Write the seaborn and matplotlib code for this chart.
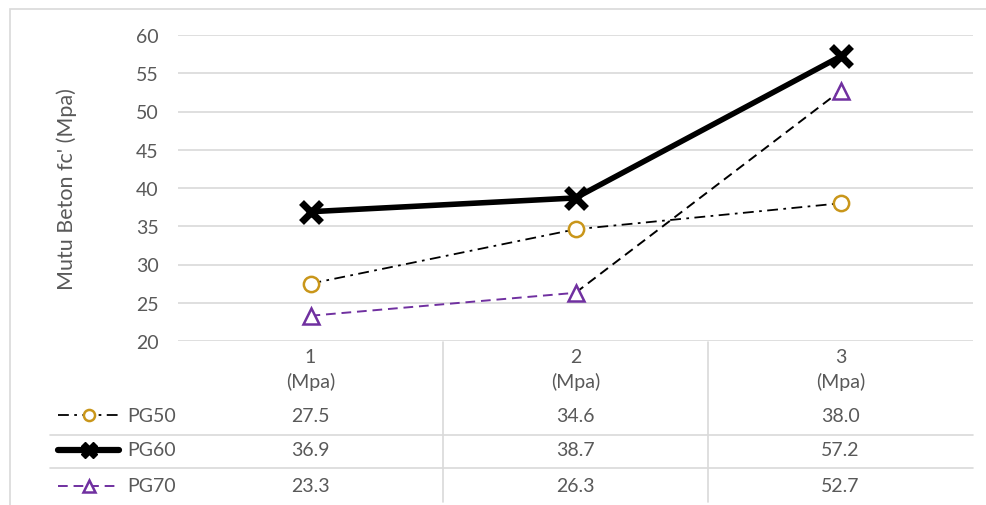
import matplotlib
matplotlib.use("Agg")
import matplotlib.pyplot as plt
import matplotlib.transforms as mtransforms
from matplotlib.lines import Line2D
from matplotlib.patches import Rectangle
import seaborn as sns
import pandas as pd

# data
categories = ["1\n(Mpa)", "2\n(Mpa)", "3\n(Mpa)"]
series_names = ["PG50", "PG60", "PG70"]
pg50 = [27.5, 34.6, 38.0]
pg60 = [36.9, 38.7, 57.2]
pg70 = [23.3, 26.3, 52.7]
y_ticks = [20, 25, 30, 35, 40, 45, 50, 55, 60]

sns.set_theme(style="white")
plt.rcParams["font.family"] = ["Lato", "DejaVu Sans"]

GRAY_TXT = "#595959"
GRID = "#D9D9D9"
GOLD = "#C9961A"
PURPLE = "#7030A0"
FS = 14

W, H = 986, 506
fig = plt.figure(figsize=(W / 100, H / 100), dpi=100)
# axes placed in pixel terms: left 178, right 973, top 36, bottom 342
ax = fig.add_axes([178 / W, 1 - 342 / H, (973 - 178) / W, (342 - 36) / H])

x = list(range(len(categories)))
df = pd.DataFrame({"x": x, "PG50": pg50, "PG60": pg60, "PG70": pg70})

# PG50 dash-dot black with gold hollow circles
sns.lineplot(data=df, x="x", y="PG50", ax=ax, color="black", linewidth=1.3,
             linestyle=(0, (6, 3, 1.5, 3)), zorder=3)
sns.lineplot(data=df, x="x", y="PG50", ax=ax, linestyle="none", marker="o",
             markersize=11, markerfacecolor="white", markeredgecolor=GOLD,
             markeredgewidth=1.8, zorder=4)

# PG70 dashed: first segment purple, second black
sns.lineplot(data=df.iloc[:2], x="x", y="PG70", ax=ax, color=PURPLE,
             linewidth=1.4, linestyle=(0, (5, 3)), zorder=3)
sns.lineplot(data=df.iloc[1:], x="x", y="PG70", ax=ax, color="black",
             linewidth=1.4, linestyle=(0, (5, 3)), zorder=3)
sns.lineplot(data=df, x="x", y="PG70", ax=ax, linestyle="none", marker="^",
             markersize=12, markerfacecolor="white", markeredgecolor=PURPLE,
             markeredgewidth=1.8, zorder=4)

# PG60 thick black with X
sns.lineplot(data=df, x="x", y="PG60", ax=ax, color="black", linewidth=4,
             marker="x", markersize=15, markeredgewidth=5,
             markeredgecolor="black", zorder=5)

ax.set_xlim(-0.5, 2.5)
ax.set_ylim(20, 60)
ax.set_yticks(y_ticks)
ax.set_xticks([])
ax.set_xlabel("")
ax.set_ylabel("Mutu Beton fc' (Mpa)", fontsize=15.5, color=GRAY_TXT, labelpad=42)
ax.tick_params(axis="y", length=0, pad=14, labelsize=FS, labelcolor=GRAY_TXT)
ax.grid(axis="y", color=GRID, linewidth=1.2)
for s in ax.spines.values():
    s.set_visible(False)
ax.set_facecolor("none")

# outer chart border
fig.patches.append(Rectangle((10 / W, -0.01), 1.0, 1 - 10 / H + 0.01,
                             transform=fig.transFigure, fill=False,
                             edgecolor=GRID, linewidth=1.2))

# data table below the plot
def fy(px):
    return 1 - px / H

tr = mtransforms.blended_transform_factory(ax.transData, fig.transFigure)

for xi, lab in zip(x, categories):
    fig.text(xi, fy(370), lab, transform=tr, ha="center", va="center",
             fontsize=FS, color=GRAY_TXT, linespacing=1.4)

# vertical table separators between categories
for xb in [0.5, 1.5]:
    fig.add_artist(Line2D([xb, xb], [fy(343), fy(503)], transform=tr,
                          color=GRID, linewidth=1.2))
# horizontal row separators
for py in [436, 469]:
    fig.add_artist(Line2D([50 / W, 973 / W], [fy(py), fy(py)],
                          transform=fig.transFigure, color=GRID, linewidth=1.2))

rows_y = [416, 451, 487]
values = [pg50, pg60, pg70]
for py, vals in zip(rows_y, values):
    for xi, v in zip(x, vals):
        fig.text(xi, fy(py), f"{v:.1f}", transform=tr, ha="center",
                 va="center", fontsize=FS, color=GRAY_TXT)

# legend keys inside the table
key_styles = [
    dict(color="black", linewidth=1.3, linestyle=(0, (6, 3, 1.5, 3)),
         marker="o", markersize=8, markerfacecolor="white",
         markeredgecolor=GOLD, markeredgewidth=1.8),
    dict(color="black", linewidth=4.5, linestyle="-", marker="X",
         markersize=12, markerfacecolor="black", markeredgecolor="black"),
    dict(color=PURPLE, linewidth=1.4, linestyle=(0, (5, 3)), marker="^",
         markersize=9, markerfacecolor="white", markeredgecolor=PURPLE,
         markeredgewidth=1.8),
]
for py, name, st in zip(rows_y, series_names, key_styles):
    line_st = {k: v for k, v in st.items() if not k.startswith("marker")}
    mark_st = {k: v for k, v in st.items() if k.startswith("marker")}
    fig.add_artist(Line2D([58 / W, 119 / W], [fy(py), fy(py)],
                          transform=fig.transFigure, **line_st))
    fig.add_artist(Line2D([89 / W], [fy(py)], transform=fig.transFigure,
                          linestyle="none", **mark_st))
    fig.text(127 / W, fy(py), name, ha="left", va="center", fontsize=FS,
             color=GRAY_TXT)

fig.savefig("out.png", dpi=100, facecolor="white")
